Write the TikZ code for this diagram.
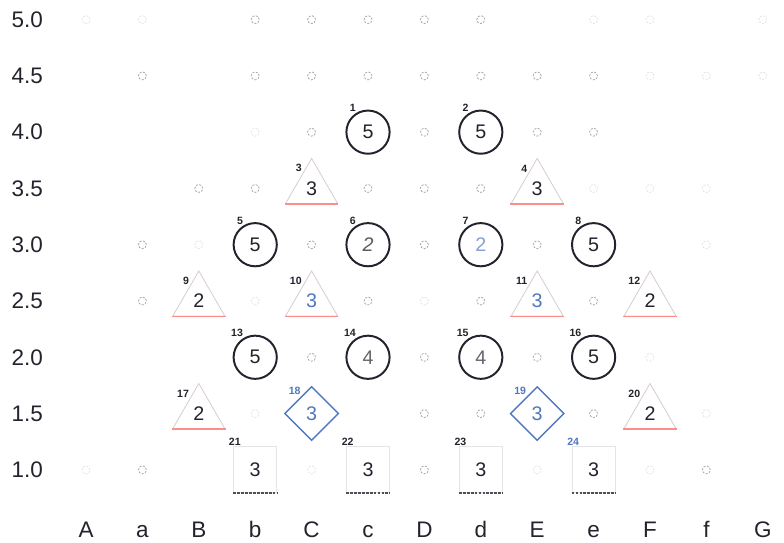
\documentclass[tikz,border=0pt]{standalone}
\usepackage{fontspec}
\setmainfont{Liberation Sans}
\usepackage{xcolor}
\usepackage{tikz}
\usetikzlibrary{shapes.geometric}
\definecolor{ink}{RGB}{35,35,45}
\definecolor{lattblue}{RGB}{80,120,190}
\tikzstyle{axislbl}  = [font=\fontsize{16}{18}\selectfont, text=ink]
\tikzstyle{idx}      = [font=\fontsize{7.5}{8}\selectfont\bfseries, text=ink, inner sep=0.5pt]
\tikzstyle{num}      = [font=\fontsize{14}{16}\selectfont, text=ink]
\tikzstyle{site}     = [num, circle, minimum size=1.08cm, inner sep=0pt, draw=ink, line width=1.4pt]
\tikzstyle{tri}      = [num, regular polygon, regular polygon sides=3, minimum size=1.5cm,
    inner sep=0pt, draw=red!10!gray!35, line width=0.6pt]
\tikzstyle{tribase}  = [draw=red!45, line width=1.1pt]
\tikzstyle{dia}      = [num, diamond, aspect=1, minimum width=1.35cm, minimum height=1.35cm,
    inner sep=0pt, draw=lattblue, line width=1pt, text=lattblue]
\tikzstyle{sq}       = [num, rectangle, minimum width=1.075cm, minimum height=1.15cm,
    draw=gray!20, line width=0.6pt]
\tikzstyle{sqbase}   = [draw=ink!80, line width=1.2pt, dash pattern=on 2pt off 0.8pt]
\tikzstyle{dot}      = [circle, minimum size=0.2cm, inner sep=0pt, draw=gray!65,
    line width=0.6pt, dash pattern=on 1.5pt off 1pt]
\tikzstyle{faintdot} = [dot, draw=gray!20]

\begin{document}
\begin{tikzpicture}[x=1.41cm, y=1.407cm]
    \useasboundingbox (-1.525,-1.297) rectangle (12.376,8.348);

    % axes
    \foreach \v [count=\j from 0] in {1.0,1.5,2.0,2.5,3.0,3.5,4.0,4.5,5.0}
        \node (y\j) [axislbl] at (-1.04,\j) {\v};
    \foreach \c [count=\i from 0] in {A,a,B,b,C,c,D,d,E,e,F,f,G}
        \node (x\i) [axislbl, anchor=base] at (\i,-1.2) {\c};

    % empty lattice points
    \foreach \p/\q in {3/8,4/8,5/8,6/8,7/8,1/7,3/7,4/7,5/7,6/7,7/7,8/7,9/7,4/6,6/6,8/6,9/6,
        2/5,3/5,5/5,6/5,7/5,1/4,4/4,6/4,8/4,1/3,5/3,7/3,9/3,4/2,6/2,8/2,6/1,7/1,9/1,1/0,6/0,11/0}
        \node (p\p-\q) [dot] at (\p,\q) {};
    \foreach \p/\q in {0/8,1/8,9/8,10/8,12/8,10/7,11/7,12/7,3/6,9/5,10/5,11/5,2/4,11/4,
        3/3,6/3,10/2,3/1,11/1,0/0,4/0,8/0,10/0}
        \node (p\p-\q) [faintdot] at (\p,\q) {};

    \node (c1)  [site, label={[idx]120:1}]  at (5,6) {5};
    \node (c2)  [site, label={[idx]120:2}]  at (7,6) {5};
    \node (t3)  [tri,  label={[idx]120:3}]  at (4,5) {3};
    \node (t4)  [tri,  label={[idx]120:4}]  at (8,5) {3};
    \node (c5)  [site, label={[idx]120:5}]  at (3,4) {5};
    \node (c6)  [site, label={[idx]120:6}, text=ink!75]     at (5,4) {\itshape 2};
    \node (c7)  [site, label={[idx]120:7}, text=lattblue!70] at (7,4) {2};
    \node (c8)  [site, label={[idx]120:8}]  at (9,4) {5};
    \node (t9)  [tri,  label={[idx]120:9}]  at (2,3) {2};
    \node (t10) [tri,  label={[idx]120:10}, text=lattblue]  at (4,3) {3};
    \node (t11) [tri,  label={[idx]120:11}, text=lattblue]  at (8,3) {3};
    \node (t12) [tri,  label={[idx]120:12}] at (10,3) {2};
    \node (c13) [site, label={[idx]120:13}] at (3,2) {5};
    \node (c14) [site, label={[idx]120:14}, text=ink!70] at (5,2) {4};
    \node (c15) [site, label={[idx]120:15}, text=ink!70] at (7,2) {4};
    \node (c16) [site, label={[idx]120:16}] at (9,2) {5};
    \node (t17) [tri,  label={[idx]120:17}] at (2,1) {2};
    \node (d18) [dia,  label={[idx, text=lattblue]120:18}] at (4,1) {3};
    \node (d19) [dia,  label={[idx, text=lattblue]120:19}] at (8,1) {3};
    \node (t20) [tri,  label={[idx]120:20}] at (10,1) {2};
    \node (s21) [sq,   label={[idx]120:21}] at (3,0) {3};
    \node (s22) [sq,   label={[idx]120:22}] at (5,0) {3};
    \node (s23) [sq,   label={[idx]120:23}] at (7,0) {3};
    \node (s24) [sq,   label={[idx, text=lattblue]120:24}] at (9,0) {3};

    \foreach \t in {t3,t4,t9,t10,t11,t12,t17,t20}
        \draw [tribase] (\t.corner 2) -- (\t.corner 3);
    \foreach \s in {s21,s22,s23,s24}
        \draw [sqbase] (\s.south west) -- (\s.south east);
\end{tikzpicture}
\end{document}
